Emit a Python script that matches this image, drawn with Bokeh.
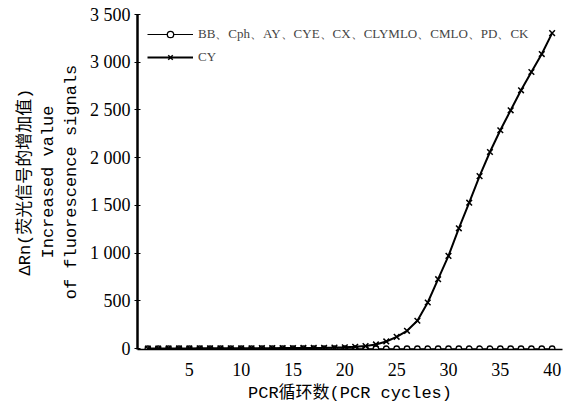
from bokeh.plotting import figure
from bokeh.models import Range1d, FixedTicker, Legend, LegendItem
from bokeh.embed import file_html
from bokeh.resources import INLINE

cycles = list(range(1, 41))
flat_values = [0] * 40
cy_values = [2, 2, 3, 3, 3, 4, 4, 4, 5, 5, 5, 6, 6, 7, 7, 8, 9, 10, 12, 15,
             20, 28, 45, 76, 125, 188, 293, 484, 728, 972,
             1261, 1529, 1808, 2060, 2288, 2497, 2706, 2898, 3086, 3305]
x_ticks = [5, 10, 15, 20, 25, 30, 35, 40]
y_ticks = [0, 500, 1000, 1500, 2000, 2500, 3000, 3500]
y_tick_labels = ["0", "500", "1 000", "1 500", "2 000", "2 500", "3 000", "3 500"]
legend_flat = "BB、Cph、AY、CYE、CX、CLYMLO、CMLO、PD、CK"
legend_cy = "CY"

p = figure(width=574, height=411, output_backend="svg", toolbar_location=None,
           x_range=Range1d(0, 41), y_range=Range1d(-8, 3500),
           min_border_left=137, min_border_right=12, min_border_top=14, min_border_bottom=62)
p.outline_line_color = None
p.xgrid.visible = False
p.ygrid.visible = False

r1 = p.line(cycles, flat_values, line_color="black", line_width=1.2)
r1m = p.scatter(cycles, flat_values, marker="circle", size=5.5, fill_color="white",
                line_color="black", line_width=1.3)
r2 = p.line(cycles, cy_values, line_color="black", line_width=2)
r2m = p.scatter(cycles, cy_values, marker="x", size=8, line_color="black", line_width=1.5)

legend = Legend(items=[LegendItem(label=legend_flat, renderers=[r1, r1m]),
                       LegendItem(label=legend_cy, renderers=[r2, r2m])],
                location=(10, 284), background_fill_alpha=0, border_line_color=None,
                glyph_width=46, glyph_height=16, label_standoff=5, spacing=6,
                label_text_font="Liberation Serif", label_text_font_size="13px",
                label_height=16, padding=4, margin=0)
p.add_layout(legend)

p.xaxis.ticker = FixedTicker(ticks=x_ticks)
p.yaxis.ticker = FixedTicker(ticks=y_ticks)
p.yaxis.major_label_overrides = {t: l for t, l in zip(y_ticks, y_tick_labels)}
for ax in (p.xaxis, p.yaxis):
    ax.major_label_text_font = "Liberation Serif"
    ax.major_label_text_font_size = "18px"
    ax.major_label_text_color = "black"
    ax.minor_tick_line_color = None
    ax.axis_line_color = "black"
    ax.axis_label_text_color = "black"
    ax.axis_label_text_font_style = "normal"
p.yaxis.axis_line_width = 2.5
p.xaxis.axis_line_width = 1.5
p.xaxis.major_tick_line_color = None
p.xaxis.major_label_standoff = 7
p.yaxis.major_tick_in = 3
p.yaxis.major_tick_out = 3
p.yaxis.major_label_standoff = 4

p.xaxis.axis_label = "PCR循环数(PCR cycles)"
p.xaxis.axis_label_text_font = "'Liberation Mono', 'Noto Sans CJK SC'"
p.xaxis.axis_label_text_font_size = "17px"
p.xaxis.axis_label_standoff = 5

p.yaxis.axis_label = "ΔRn(荧光信号的增加值)\nIncreased value\nof fluorescence signals"
p.yaxis.axis_label_text_font = "'Liberation Mono', 'Noto Sans CJK SC'"
p.yaxis.axis_label_text_font_size = "17px"
p.yaxis.axis_label_standoff = 6

open("out.html", "w").write(file_html(p, INLINE))
